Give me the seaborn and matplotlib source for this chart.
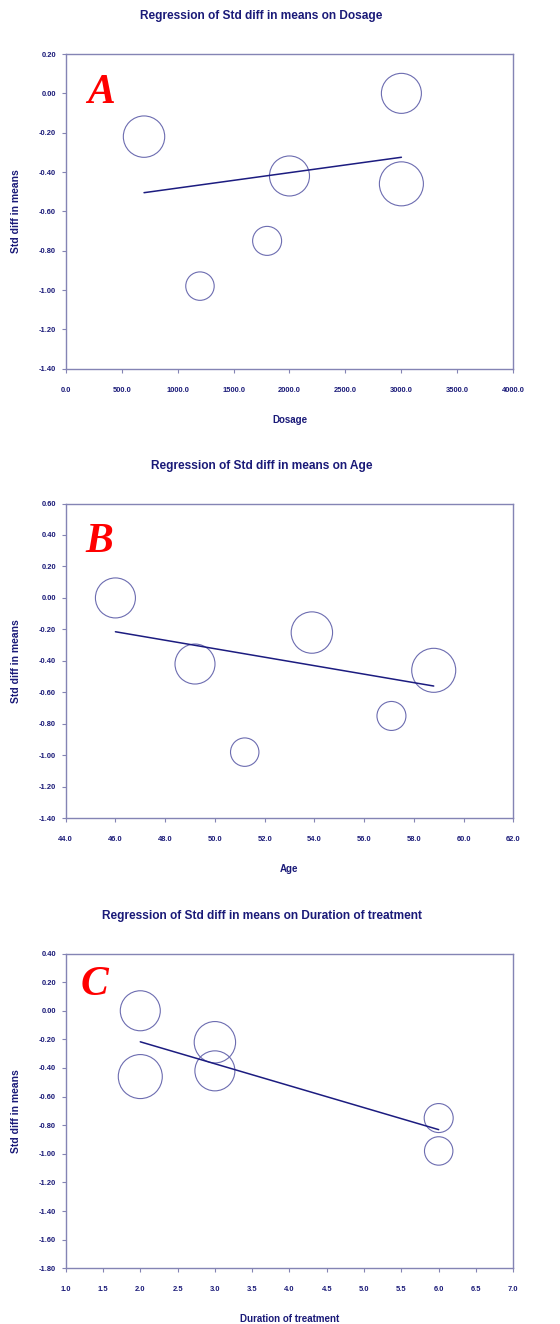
import numpy as np
import pandas as pd
import matplotlib
matplotlib.use("Agg")
import matplotlib.pyplot as plt
import seaborn as sns

# === DATA ===
std_diff = [0.00, -0.22, -0.42, -0.46, -0.75, -0.98]
weight = [400, 428, 400, 484, 210, 202]          # relative study weights (circle area)
dosage = [3000, 700, 2000, 3000, 1800, 1200]
age = [46.0, 53.9, 49.2, 58.8, 57.1, 51.2]
duration = [2, 3, 3, 2, 6, 6]

# fitted meta-regression lines: intercept, slope
fit_dosage = (-0.5598, 0.0000783)
fit_age = (1.0248, -0.02695)
fit_duration = (0.0900, -0.1535)

TEXT = "#1a1a78"
SPINE = "#8484b4"
CIRCLE = "#6c6cb0"
LINE = "#1c1c80"

sns.set_style("white")
plt.rcParams["font.family"] = ["Liberation Sans", "DejaVu Sans"]
plt.rcParams["axes.unicode_minus"] = False

fig = plt.figure(figsize=(5.6, 13.24), dpi=100)

panels = [
    dict(cov=dosage, name="Dosage", fit=fit_dosage, letter="A",
         xlim=(0, 4000), xticks=np.arange(0, 4001, 500),
         ylim=(-1.4, 0.2), yticks=np.arange(-1.4, 0.21, 0.2),
         bottom=0.7215, lx=0.048, ly=0.844),
    dict(cov=age, name="Age", fit=fit_age, letter="B",
         xlim=(44, 62), xticks=np.arange(44, 62.1, 2),
         ylim=(-1.4, 0.6), yticks=np.arange(-1.4, 0.61, 0.2),
         bottom=0.3820, lx=0.045, ly=0.846),
    dict(cov=duration, name="Duration of treatment", fit=fit_duration, letter="C",
         xlim=(1, 7), xticks=np.arange(1, 7.01, 0.5),
         ylim=(-1.8, 0.4), yticks=np.arange(-1.8, 0.41, 0.2),
         bottom=0.0421, lx=0.034, ly=0.868),
]

for p in panels:
    ax = fig.add_axes([0.1173, p["bottom"], 0.7993, 0.2377])
    df = pd.DataFrame({"x": p["cov"], "y": std_diff, "w": weight})

    sns.scatterplot(data=df, x="x", y="y", size="w", sizes=(0, 1004),
                    size_norm=(0, max(weight)), facecolor="none",
                    edgecolor=CIRCLE, linewidth=0.8, legend=False, ax=ax, zorder=2)
    ax.collections[0].set_facecolor("none")

    b0, b1 = p["fit"]
    xs = np.array([min(p["cov"]), max(p["cov"])])
    sns.lineplot(x=xs, y=b0 + b1 * xs, color=LINE, linewidth=1.1, ax=ax, zorder=3)

    ax.set_xlim(*p["xlim"])
    ax.set_ylim(*p["ylim"])
    ax.set_xticks(p["xticks"])
    ax.set_xticklabels(["{:.1f}".format(round(v, 1) + 0.0) for v in p["xticks"]])
    ax.set_yticks(p["yticks"])
    ax.set_yticklabels(["{:.2f}".format(round(v, 2) + 0.0) for v in p["yticks"]])

    for s in ax.spines.values():
        s.set_color(SPINE)
        s.set_linewidth(1.0)
    ax.tick_params(axis="x", direction="out", length=3, width=0.8, color=SPINE,
                   pad=10, labelsize=5.4, labelcolor=TEXT, bottom=True)
    ax.tick_params(axis="y", direction="out", length=3, width=0.8, color=SPINE,
                   pad=4, labelsize=5.4, labelcolor=TEXT, left=True)
    for lab in ax.get_xticklabels() + ax.get_yticklabels():
        lab.set_fontweight("bold")

    ax.set_xlabel(p["name"], fontsize=7, fontweight="bold", color=TEXT)
    ax.set_ylabel("Std diff in means", fontsize=7.5, fontweight="bold", color=TEXT)
    ax.xaxis.label.set_va("center")
    ax.xaxis.set_label_coords(0.5, -0.162)
    ax.yaxis.label.set_va("center")
    ax.yaxis.set_label_coords(-0.111, 0.5)

    ax.text(p["lx"], p["ly"], p["letter"], transform=ax.transAxes, color="red",
            fontsize=30, fontweight="bold", fontstyle="italic",
            family=["Liberation Serif", "DejaVu Serif"], ha="left", va="baseline")

    title_y = p["bottom"] + 0.2377 + 38 / 1324
    fig.text(0.467, title_y, "Regression of Std diff in means on " + p["name"],
             ha="center", va="center", fontsize=8.6, fontweight="bold", color=TEXT)

fig.savefig("out.png", dpi=100)
